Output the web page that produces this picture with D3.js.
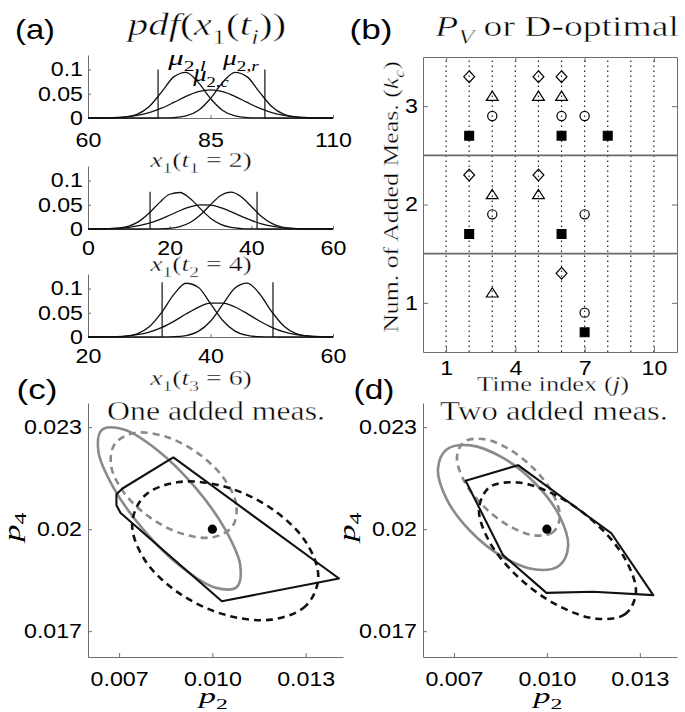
<!DOCTYPE html>
<html>
<head>
<meta charset="utf-8">
<script src="https://cdn.jsdelivr.net/npm/d3@7"></script>
<style>body{margin:0;background:#fff}</style>
</head>
<body>
<svg id="fig" width="685" height="712"></svg>
<script>
// ---- (a) pdf curves, sampled off the figure ----
const topX = [60,62.5,65,67.5,70,72.5,75,77.5,80,82.5,85,87.5,90,92.5,95,97.5,100,102.5,105,107.5,110];
const topLeft = [0,0,0.0002,0.0016,0.0073,0.0237,0.0535,0.0849,0.0943,0.0736,0.0403,0.0155,0.0042,0.0008,0.0001,0,0,0,0,0,0];
const topMid = [0.0001,0.0003,0.0009,0.0023,0.0055,0.0112,0.0203,0.0321,0.0446,0.0543,0.058,0.0543,0.0446,0.0321,0.0203,0.0112,0.0055,0.0023,0.0009,0.0003,0.0001];
const topRight = [0,0,0,0,0,0,0.0001,0.0008,0.0042,0.0155,0.0403,0.0736,0.0943,0.0849,0.0535,0.0237,0.0073,0.0016,0.0002,0,0];

const midX = [0,2.5,5,7.5,10,12.5,15,17.5,20,22.5,25,27.5,30,32.5,35,37.5,40,42.5,45,47.5,50,52.5,55,57.5,60];
const midLeft = [0,0.0001,0.0005,0.0019,0.0061,0.0158,0.0329,0.0544,0.0717,0.0753,0.0631,0.0421,0.0224,0.0095,0.0032,0.0009,0.0002,0,0,0,0,0,0,0,0];
const midMid = [0.0001,0.0003,0.0007,0.0016,0.0035,0.0068,0.012,0.0194,0.0284,0.0377,0.0454,0.0496,0.0491,0.0441,0.0359,0.0265,0.0178,0.0108,0.006,0.003,0.0014,0.0006,0.0002,0.0001,0];
const midRight = [0,0,0,0,0,0,0.0001,0.0003,0.0014,0.0049,0.0133,0.0289,0.05,0.069,0.0759,0.0666,0.0466,0.0259,0.0115,0.0041,0.0011,0.0003,0.0001,0,0];

const botX = [20,22,24,26,28,30,32,34,36,38,40,42,44,46,48,50,52,54,56,58,60];
const botLeft = [0,0,0.0002,0.0014,0.0065,0.0211,0.0504,0.0875,0.1109,0.1025,0.0691,0.034,0.0122,0.0032,0.0006,0.0001,0,0,0,0,0];
const botMid = [0.0001,0.0002,0.0007,0.002,0.0048,0.0103,0.0194,0.0323,0.0474,0.0613,0.0698,0.07,0.0619,0.0482,0.033,0.02,0.0106,0.005,0.0021,0.0008,0.0002];
const botRight = [0,0,0,0,0,0,0.0001,0.0006,0.003,0.0115,0.0325,0.0672,0.1012,0.1113,0.0893,0.0522,0.0223,0.0069,0.0016,0.0003,0];

const topBounds = [74.3, 96.1], midBounds = [15.2, 41.4], botBounds = [32.1, 50.2];
const boundHeights = [0.1, 0.077, 0.113];
const pdfDomains = [[60,110],[0,60],[20,60]];
const pdfXTicks = [[60,85,110],[0,20,40,60],[20,40,60]];
const pdfYTicks = [0, 0.05, 0.1];
const pdfXLabelNum = ['1 = 2', '2 = 4', '3 = 6'];

// ---- (b) selected measurement times ----
const timeIdx = [1,2,3,4,5,6,7,8,9,10];
const timeTicks = [1,4,7,10];
const kcTicks = [1,2,3];
const kcSeparators = [1.5, 2.5];
const diamondPts = [[2,3.3],[5,3.3],[6,3.3],[2,2.3],[5,2.3],[6,1.3]];
const trianglePts = [[3,3.1],[5,3.1],[6,3.1],[3,2.1],[5,2.1],[3,1.1]];
const circlePts = [[3,2.9],[6,2.9],[7,2.9],[3,1.9],[7,1.9],[7,0.9]];
const squarePts = [[2,2.7],[6,2.7],[8,2.7],[2,1.7],[6,1.7],[7,0.7]];

// ---- (c) one added measurement ----
const cGrayEll = [[0.010777,0.018292],[0.010898,0.018921],[0.010406,0.020000],[0.009435,0.021243],[0.008244,0.022316],[0.007152,0.022930],[0.006452,0.022924],[0.006332,0.022295],[0.006823,0.021216],[0.007794,0.019973],[0.008985,0.018900],[0.010078,0.018285]];
const cGrayDash = [[0.010649,0.020084],[0.010766,0.020728],[0.010344,0.021524],[0.009496,0.022258],[0.008450,0.022733],[0.007485,0.022825],[0.006860,0.022504],[0.006743,0.021860],[0.007165,0.021065],[0.008013,0.020330],[0.009059,0.019855],[0.010024,0.019764]];
const cBlackDash = [[0.013405,0.018578],[0.013003,0.017742],[0.011908,0.017340],[0.010412,0.017480],[0.008916,0.018125],[0.007821,0.019101],[0.007420,0.020147],[0.007821,0.020983],[0.008916,0.021385],[0.010412,0.021245],[0.011908,0.020601],[0.013003,0.019625]];
const cRegion = [[0.008744,0.022108],[0.007108,0.021196],[0.006914,0.021029],[0.006914,0.020706],[0.007043,0.020480],[0.007215,0.020343],[0.010305,0.017882],[0.014072,0.018549]];

// ---- (d) two added measurements ----
const dGrayEll = [[0.010685,0.019510],[0.010404,0.018931],[0.009635,0.018811],[0.008584,0.019179],[0.007533,0.019938],[0.006764,0.020884],[0.006483,0.021765],[0.006764,0.022343],[0.007533,0.022464],[0.008584,0.022095],[0.009635,0.021336],[0.010404,0.020390]];
const dGrayDash = [[0.010416,0.020353],[0.010194,0.019908],[0.009586,0.019818],[0.008756,0.020108],[0.007927,0.020700],[0.007319,0.021435],[0.007097,0.022118],[0.007319,0.022563],[0.007927,0.022653],[0.008756,0.022363],[0.009586,0.021771],[0.010194,0.021035]];
const dBlackDash = [[0.012873,0.018142],[0.012533,0.017503],[0.011607,0.017365],[0.010341,0.017763],[0.009074,0.018590],[0.008148,0.019626],[0.007808,0.020593],[0.008148,0.021232],[0.009074,0.021371],[0.010341,0.020973],[0.011607,0.020145],[0.012533,0.019109]];
const dRegion = [[0.007377,0.021422],[0.009069,0.021882],[0.012086,0.019873],[0.013433,0.018059],[0.011494,0.018157],[0.009985,0.018127],[0.008584,0.019235]];

const nominal = [0.010, 0.020];
const pXTicks = [0.007, 0.010, 0.013], pXLabels = ['0.007','0.010','0.013'];
const pYTicks = [0.017, 0.020, 0.023], pYLabels = ['0.017','0.02','0.023'];

// ---------------------------------------------------------------
const SANS = "'Liberation Sans', Arial, Helvetica, sans-serif";
const SERIF = "'Liberation Serif', 'Times New Roman', serif";
const AXIS_GRAY = '#6e6e6e';
const TICK_SIZE = 20;
const TICK_K = 1.16;   // tick labels in the figure are a bit wide

const svg = d3.select('#fig');
svg.append('rect').attr('width', 685).attr('height', 712).attr('fill', '#fff');

// text with italic / subscript parts, stretched to a target width
function mtext(parts, o) {
  const t = svg.append('text')
    .attr('font-family', o.family || SERIF)
    .attr('font-size', o.size)
    .attr('text-anchor', o.anchor || 'middle')
    .attr('fill', '#000');
  if (o.thin) t.attr('stroke', '#fff').attr('stroke-width', o.thin);
  let inSub = false;
  parts.forEach(p => {
    const ts = t.append('tspan').text(p.t);
    if (p.i) ts.attr('font-style', 'italic');
    if (p.s) ts.attr('font-size', o.size * 0.7);
    if (!!p.s !== inSub) ts.attr('dy', (p.s ? 1 : -1) * o.size * 0.28);
    inSub = !!p.s;
  });
  const k = o.width ? o.width / t.node().getBBox().width : 1;
  t.attr('transform', `translate(${o.x},${o.y})` + (o.rotate ? ` rotate(${o.rotate})` : '') + ` scale(${k},1)`);
  return t;
}

function styleAxis(g) {
  g.attr('color', AXIS_GRAY);
  g.selectAll('text')
    .attr('fill', '#000')
    .attr('font-family', SANS)
    .attr('font-size', TICK_SIZE)
    .style('font-size', TICK_SIZE + 'px')
    .each(function () {
      const s = d3.select(this);
      const x = +s.attr('x') || 0, y = +s.attr('y') || 0;
      s.attr('x', null).attr('y', null).attr('transform', `translate(${x},${y}) scale(${TICK_K},1)`);
    });
}

// ================= (a) =================
const pdfBases = [118, 229, 337];
const pdfLabelY = [167, 271, 385];
const pdfTickPad = [15, 12, 12];
const pdfCurves = [[topLeft, topMid, topRight], [midLeft, midMid, midRight], [botLeft, botMid, botRight]];
const pdfXs = [topX, midX, botX];
const pdfBounds = [topBounds, midBounds, botBounds];

pdfBases.forEach((base, i) => {
  const x = d3.scaleLinear().domain(pdfDomains[i]).range([88, 333]);
  const y = d3.scaleLinear().domain([0, 0.13]).range([base, base - 63]);

  svg.append('g').attr('transform', `translate(0,${base})`)
    .call(d3.axisBottom(x).tickValues(pdfXTicks[i]).tickFormat(d3.format('d')).tickSizeInner(-3).tickSizeOuter(0).tickPadding(pdfTickPad[i]))
    .call(styleAxis);
  svg.append('g').attr('transform', 'translate(88,0)')
    .call(d3.axisLeft(y).tickValues(pdfYTicks).tickFormat(d => String(d)).tickSizeInner(-3).tickSizeOuter(0).tickPadding(5))
    .call(styleAxis);

  const line = d3.line().x((d, j) => x(pdfXs[i][j])).y(d => y(d)).curve(d3.curveMonotoneX);
  svg.append('g').selectAll('path').data(pdfCurves[i]).join('path')
    .attr('d', line).attr('fill', 'none').attr('stroke', '#111').attr('stroke-width', 1.3);

  svg.append('g').selectAll('line').data(pdfBounds[i]).join('line')
    .attr('x1', d => x(d)).attr('x2', d => x(d))
    .attr('y1', y(0)).attr('y2', y(boundHeights[i]))
    .attr('stroke', '#111').attr('stroke-width', 1.2);

  mtext([{t: 'x', i: 1}, {t: '1', s: 1}, {t: '('}, {t: 't', i: 1}, {t: pdfXLabelNum[i].slice(0, 1), s: 1}, {t: pdfXLabelNum[i].slice(1) + ')'}],
    {x: 201, y: pdfLabelY[i], size: 22, width: 103, thin: 0.35});

  if (i === 0) {
    mtext([{t: 'μ', i: 1}, {t: '2,', s: 1}, {t: 'l', s: 1, i: 1}], {x: x(80.2), y: y(0.11), size: 22, width: 39});
    mtext([{t: 'μ', i: 1}, {t: '2,', s: 1}, {t: 'c', s: 1, i: 1}], {x: x(85.1), y: y(0.076), size: 22, width: 37});
    mtext([{t: 'μ', i: 1}, {t: '2,', s: 1}, {t: 'r', s: 1, i: 1}], {x: x(91.2), y: y(0.11), size: 22, width: 38});
  }
});

mtext([{t: '(a)'}], {x: 35, y: 39, size: 28, family: SANS, width: 40});
mtext([{t: 'pdf', i: 1}, {t: '('}, {t: 'x', i: 1}, {t: '1', s: 1}, {t: '('}, {t: 't', i: 1}, {t: 'i', i: 1, s: 1}, {t: '))'}],
  {x: 207, y: 35, size: 31, width: 161, thin: 0.5});

// ================= (b) =================
const xb = d3.scaleLinear().domain([0, 11]).range([423, 677]);
const yb = d3.scaleLinear().domain([0.5, 3.5]).range([352, 57]);

svg.append('g').selectAll('line').data(timeIdx).join('line')
  .attr('x1', d => xb(d)).attr('x2', d => xb(d)).attr('y1', yb(0.5)).attr('y2', yb(3.5))
  .attr('stroke', '#222').attr('stroke-width', 1.2).attr('stroke-dasharray', '1.4,3.6');

svg.append('g').selectAll('line').data(kcSeparators).join('line')
  .attr('x1', xb(0)).attr('x2', xb(11)).attr('y1', d => yb(d)).attr('y2', d => yb(d))
  .attr('stroke', '#6a6a6a').attr('stroke-width', 1.6);

svg.append('g').attr('transform', `translate(0,${yb(0.5)})`)
  .call(d3.axisBottom(xb).tickValues(timeTicks).tickFormat(d3.format('d')).tickSizeInner(-5).tickSizeOuter(0).tickPadding(9))
  .call(styleAxis);
svg.append('g').attr('transform', `translate(0,${yb(3.5)})`)
  .call(d3.axisTop(xb).tickValues(timeTicks).tickFormat('').tickSizeInner(-5).tickSizeOuter(0))
  .call(styleAxis);
svg.append('g').attr('transform', `translate(${xb(0)},0)`)
  .call(d3.axisLeft(yb).tickValues(kcTicks).tickFormat(d3.format('d')).tickSizeInner(-5).tickSizeOuter(0).tickPadding(5))
  .call(styleAxis);
svg.append('g').attr('transform', `translate(${xb(11)},0)`)
  .call(d3.axisRight(yb).tickValues(kcTicks).tickFormat('').tickSizeInner(-5).tickSizeOuter(0))
  .call(styleAxis);

const markerSets = [
  {pts: diamondPts, d: 'M0,-5.9L5.4,0L0,5.9L-5.4,0Z', fill: 'none'},
  {pts: trianglePts, d: 'M0,-5.2L5.9,4L-5.9,4Z', fill: 'none'},
  {pts: circlePts, d: 'M4.6,0A4.6,4.6 0 1,1 -4.6,0A4.6,4.6 0 1,1 4.6,0Z', fill: 'none'},
  {pts: squarePts, d: 'M-4.4,-4.4H4.4V4.4H-4.4Z', fill: '#000'}
];
markerSets.forEach(m => {
  svg.append('g').selectAll('path').data(m.pts).join('path')
    .attr('transform', d => `translate(${xb(d[0])},${yb(d[1])})`)
    .attr('d', m.d).attr('fill', m.fill).attr('stroke', '#000').attr('stroke-width', 1.2);
});

mtext([{t: '(b)'}], {x: 371, y: 39, size: 28, family: SANS, width: 43});
mtext([{t: 'P', i: 1}, {t: 'V', i: 1, s: 1}, {t: ' or D-optimal'}], {x: 557, y: 36, size: 30, width: 245, thin: 0.5});
mtext([{t: 'Num. of Added Meas. ('}, {t: 'k', i: 1}, {t: 'c', i: 1, s: 1}, {t: ')'}],
  {x: 398, y: 197, size: 21, rotate: -90, width: 272, thin: 0.35});
mtext([{t: 'Time index ('}, {t: 'j', i: 1}, {t: ')'}], {x: 553, y: 391, size: 22, width: 152, thin: 0.35});

// ================= (c), (d) =================
const uncPanels = [
  {left: 88, right: 343, ell: cGrayEll, dash: cGrayDash, bdash: cBlackDash, region: cRegion, tag: '(c)', tagX: 37, title: 'One added meas.', titleX: 216, titleW: 218},
  {left: 423, right: 677, ell: dGrayEll, dash: dGrayDash, bdash: dBlackDash, region: dRegion, tag: '(d)', tagX: 374, title: 'Two added meas.', titleX: 554, titleW: 228}
];

uncPanels.forEach(p => {
  const x = d3.scaleLinear().domain([0.006, 0.0142]).range([p.left, p.right]);
  const y = d3.scaleLinear().domain([0.01624, 0.02371]).range([657, 403]);

  svg.append('g').attr('transform', 'translate(0,657)')
    .call(d3.axisBottom(x).tickValues(pXTicks).tickFormat((d, i) => pXLabels[i]).tickSizeInner(-4).tickSizeOuter(0).tickPadding(15))
    .call(styleAxis);
  svg.append('g').attr('transform', `translate(${p.left},0)`)
    .call(d3.axisLeft(y).tickValues(pYTicks).tickFormat((d, i) => pYLabels[i]).tickSizeInner(-4).tickSizeOuter(0).tickPadding(6))
    .call(styleAxis);

  const smooth = d3.line().x(d => x(d[0])).y(d => y(d[1])).curve(d3.curveCatmullRomClosed.alpha(0.5));
  const poly = d3.line().x(d => x(d[0])).y(d => y(d[1])).curve(d3.curveLinearClosed);

  svg.append('path').attr('d', smooth(p.ell)).attr('fill', 'none')
    .attr('stroke', '#8a8a8a').attr('stroke-width', 2.6);
  svg.append('path').attr('d', smooth(p.dash)).attr('fill', 'none')
    .attr('stroke', '#8a8a8a').attr('stroke-width', 2.6).attr('stroke-dasharray', '7,5');
  svg.append('path').attr('d', smooth(p.bdash)).attr('fill', 'none')
    .attr('stroke', '#111').attr('stroke-width', 2.6).attr('stroke-dasharray', '7,5');
  svg.append('path').attr('d', poly(p.region)).attr('fill', 'none')
    .attr('stroke', '#111').attr('stroke-width', 2.1).attr('stroke-linejoin', 'round');
  svg.append('circle').attr('cx', x(nominal[0])).attr('cy', y(nominal[1])).attr('r', 4.6).attr('fill', '#000');

  mtext([{t: p.tag}], {x: p.tagX, y: 399, size: 28, family: SANS, width: 41});
  mtext([{t: p.title}], {x: p.titleX, y: 420, size: 27, width: p.titleW, thin: 0.45});
  mtext([{t: 'p', i: 1}, {t: '4', s: 1}], {x: p.left - 68, y: 527, size: 23, rotate: -90, width: 32});
  mtext([{t: 'p', i: 1}, {t: '2', s: 1}], {x: (p.left + p.right) / 2 - 2, y: 703, size: 22, width: 32});
});
</script>
</body>
</html>
